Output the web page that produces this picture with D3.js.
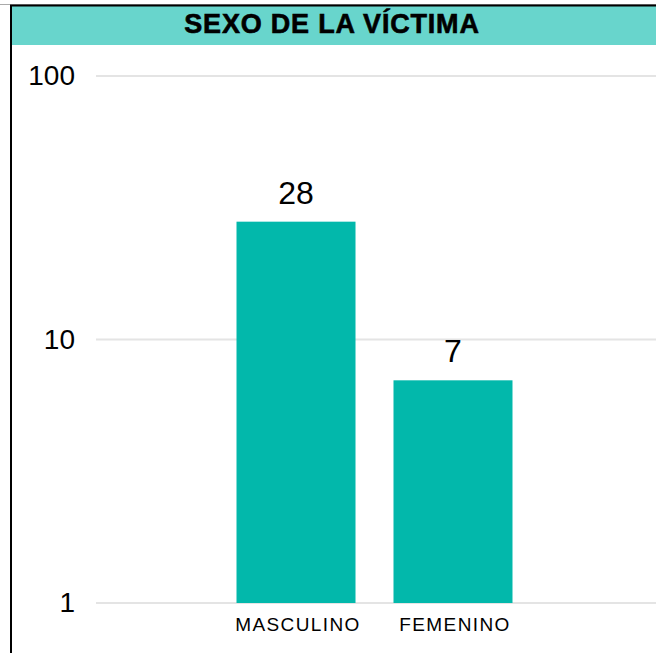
<!DOCTYPE html>
<html>
<head>
<meta charset="utf-8">
<script src="https://cdn.jsdelivr.net/npm/d3@7"></script>
<style>
  body { margin: 0; background: #fff; }
  text { font-family: "Liberation Sans", Arial, sans-serif; }
</style>
</head>
<body>
<div id="chart"></div>
<script>
var categories = ["MASCULINO", "FEMENINO"];
var values = [28, 7];
var tickValues = [1, 10, 100];
var title = "SEXO DE LA VÍCTIMA";

var width = 656, height = 653;

var svg = d3.select("#chart").append("svg")
    .attr("width", width)
    .attr("height", height);

svg.append("rect").attr("width", width).attr("height", height).attr("fill", "#fff");

// title band
svg.append("rect")
    .attr("x", 11).attr("y", 6)
    .attr("width", width - 11).attr("height", 39)
    .attr("fill", "#68d5cc");
svg.append("line")
    .attr("x1", 0).attr("x2", width).attr("y1", 4.5).attr("y2", 4.5)
    .attr("stroke", "#aaa").attr("stroke-width", 1);
svg.append("line")
    .attr("x1", 10).attr("x2", width).attr("y1", 5.5).attr("y2", 5.5)
    .attr("stroke", "#000").attr("stroke-width", 2);
svg.append("line")
    .attr("x1", 11).attr("x2", 11).attr("y1", 5).attr("y2", height)
    .attr("stroke", "#000").attr("stroke-width", 2);

svg.append("text")
    .attr("x", 332).attr("y", 33)
    .attr("text-anchor", "middle")
    .attr("font-size", 27)
    .attr("font-weight", "bold")
    .attr("letter-spacing", "0.8px")
    .attr("stroke", "#000").attr("stroke-width", 0.6)
    .attr("fill", "#000")
    .text(title);

// scales
var y = d3.scaleLog().domain([1, 100]).range([603, 76]);
var x = d3.scaleBand().domain(categories).range([96, 653])
    .paddingInner(0.242).paddingOuter(0.895);

// gridlines
svg.append("g").selectAll("line")
    .data(tickValues).enter().append("line")
    .attr("x1", 96).attr("x2", width)
    .attr("y1", function (d) { return y(d); })
    .attr("y2", function (d) { return y(d); })
    .attr("stroke", "#e4e4e4").attr("stroke-width", 2);

// y axis labels
var yAxis = d3.axisLeft(y).tickValues(tickValues).tickFormat(d3.format("d")).tickSize(0).tickPadding(0);
var gy = svg.append("g").attr("transform", "translate(75,0)").call(yAxis);
gy.select(".domain").remove();
gy.selectAll("text")
    .attr("font-family", "Liberation Sans, Arial, sans-serif")
    .attr("font-size", 28)
    .attr("fill", "#000");

// bars
svg.append("g").selectAll("rect")
    .data(values).enter().append("rect")
    .attr("x", function (d, i) { return x(categories[i]); })
    .attr("width", x.bandwidth())
    .attr("y", function (d) { return y(d); })
    .attr("height", function (d) { return y(1) - y(d); })
    .attr("fill", "#02b8ab");

// value labels
svg.append("g").selectAll("text")
    .data(values).enter().append("text")
    .attr("x", function (d, i) { return x(categories[i]) + x.bandwidth() / 2; })
    .attr("y", function (d) { return y(d) - 18; })
    .attr("text-anchor", "middle")
    .attr("font-size", 32)
    .attr("fill", "#000")
    .text(function (d) { return d; });

// x axis labels
var xAxis = d3.axisBottom(x).tickSize(0).tickPadding(0);
var gx = svg.append("g").attr("transform", "translate(2,617)").call(xAxis);
gx.select(".domain").remove();
gx.selectAll("text")
    .attr("font-family", "Liberation Sans, Arial, sans-serif")
    .attr("font-size", 19)
    .attr("letter-spacing", "1.4px")
    .attr("fill", "#000");
</script>
</body>
</html>
